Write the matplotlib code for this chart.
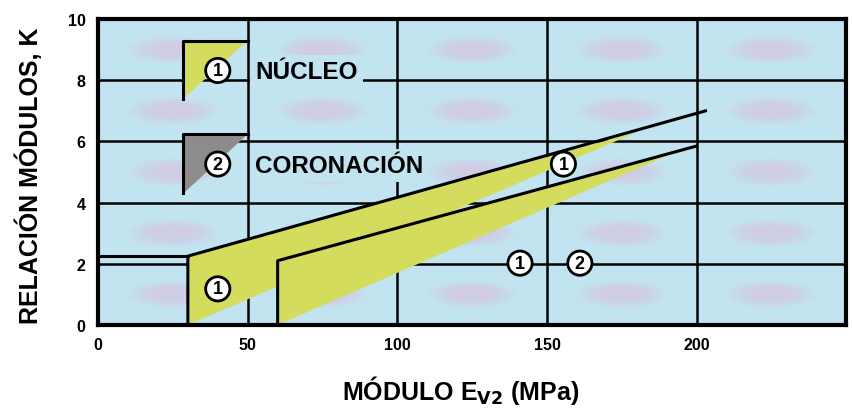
import matplotlib
matplotlib.use("Agg")
import matplotlib.pyplot as plt
from matplotlib.patches import Polygon, Ellipse
import numpy as np

plt.rcParams['font.family'] = ['Liberation Sans', 'DejaVu Sans']
plt.rcParams['font.weight'] = 'bold'
plt.rcParams['mathtext.default'] = 'bf'

# ---- data ----
x_ticks = [0, 50, 100, 150, 200]
y_ticks = [0, 2, 4, 6, 8, 10]
x_label = "MÓDULO E$_{\\mathbf{V2}}$ (MPa)"
y_label = "RELACIÓN MÓDULOS, K"

# upper boundary line, curve 1 (núcleo)
curve1_x = [0, 30, 30, 203]
curve1_y = [2.25, 2.25, 0, 7.0]
# upper boundary line, curve 2 (coronación)
curve2_x = [60, 60, 200]
curve2_y = [0, 2.1, 5.85]

# yellow band 1 outline
band1_x = [30, 30, 180, 30]
band1_y = [0, 2.25, 6.3, 0]
# yellow band 2 outline
band2_x = [60, 60, 194, 60]
band2_y = [0, 2.1, 5.7, 0]

legend_labels = ["NÚCLEO", "CORONACIÓN"]
legend_nums = ["1", "2"]
legend_top = [9.3, 6.24]
legend_bottom = [7.4, 4.3]

circle_labels = ["1", "1", "1", "2"]
circle_x = [40, 155.5, 141, 161]
circle_y = [1.18, 5.26, 2.02, 2.02]

# ---- style ----
BG = "#c2e4f1"
YEL = "#d3dc5c"
GRAY = "#8e8b8c"

fig = plt.figure(figsize=(8.53, 4.10), dpi=100)
fig.patch.set_facecolor("white")
ax = fig.add_axes([0.115, 0.205, 0.877, 0.746])
ax.set_facecolor(BG)
ax.set_xlim(0, 250)
ax.set_ylim(0, 10)

# soft pink blobs in each grid cell (background texture)
xs = x_ticks + [250]
for i in range(len(xs) - 1):
    for j in range(len(y_ticks) - 1):
        cx = (xs[i] + xs[i + 1]) / 2
        cy = (y_ticks[j] + y_ticks[j + 1]) / 2
        for k in range(6):
            ax.add_patch(Ellipse((cx, cy), 30 - 3.5 * k, 0.9 - 0.1 * k,
                                 facecolor="#e0b8dc", edgecolor="none",
                                 alpha=0.11, zorder=0.5))

# grid
for xv in x_ticks[1:]:
    ax.axvline(xv, color="black", lw=1.8, zorder=1)
for yv in y_ticks[1:-1]:
    ax.axhline(yv, color="black", lw=1.8, zorder=1)

# yellow bands
ax.add_patch(Polygon(np.column_stack([band1_x, band1_y]), closed=True,
                     facecolor=YEL, edgecolor="none", zorder=2))
ax.add_patch(Polygon(np.column_stack([band2_x, band2_y]), closed=True,
                     facecolor=YEL, edgecolor="none", zorder=2))

# boundary lines
ax.plot(curve1_x[:2], curve1_y[:2], color="black", lw=2.2, zorder=3)
ax.plot([curve1_x[2], curve1_x[1], curve1_x[3]],
        [curve1_y[2], curve1_y[1], curve1_y[3]], color="black", lw=2.2, zorder=3)
ax.plot(curve2_x, curve2_y, color="black", lw=2.2, zorder=3)

circ_box = dict(boxstyle="circle,pad=0.2", fc="white", ec="black", lw=2.0)

# legend swatches
for top, bot, col, num, lab in zip(legend_top, legend_bottom, [YEL, GRAY],
                                   legend_nums, legend_labels):
    ax.add_patch(Polygon([[28.5, top], [50, top], [28.5, bot]], closed=True,
                         facecolor=col, edgecolor="none", zorder=2))
    ax.plot([28.5, 28.5, 50], [bot, top, top], color="black", lw=2.2, zorder=3)
    ax.text(40, top - 0.98, num, ha="center", va="center", fontsize=13,
            fontweight="bold", zorder=5, bbox=circ_box)
    ax.text(52.5, top - 1.02, lab, ha="left", va="center", fontsize=17.5,
            fontweight="bold", zorder=4,
            bbox=dict(boxstyle="square,pad=0.2", fc=BG, ec="none"))

# numbered circles
for t, cx, cy in zip(circle_labels, circle_x, circle_y):
    ax.text(cx, cy, t, ha="center", va="center", fontsize=13, fontweight="bold",
            zorder=5, bbox=circ_box)

# axes styling
ax.set_xticks(x_ticks)
ax.set_yticks(y_ticks)
ax.tick_params(length=0, labelsize=11.5, pad=9)
for lab in ax.get_xticklabels() + ax.get_yticklabels():
    lab.set_fontweight("bold")
for s in ax.spines.values():
    s.set_linewidth(3)
    s.set_zorder(6)

ax.set_xlabel(x_label, fontsize=18, fontweight="bold", labelpad=15)
ax.xaxis.label.set_x(0.484)
ax.set_ylabel(y_label, fontsize=18, fontweight="bold", labelpad=18)
ax.yaxis.label.set_y(0.49)

fig.savefig("out.png", dpi=100, facecolor="white")
